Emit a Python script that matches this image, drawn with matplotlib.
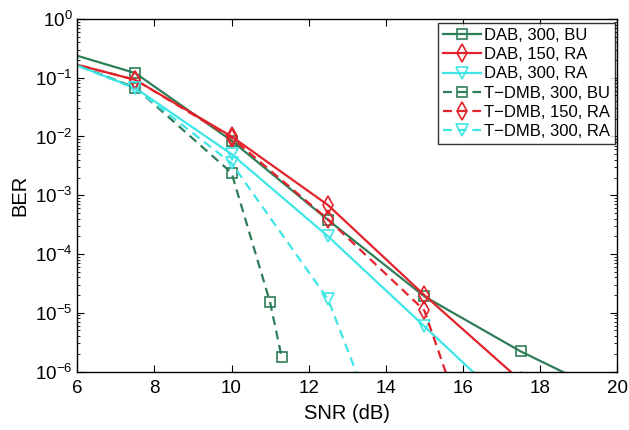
import numpy as np
import matplotlib
matplotlib.use("Agg")
import matplotlib.pyplot as plt

plt.rcParams['font.family'] = ['Liberation Sans', 'DejaVu Sans']
plt.rcParams['mathtext.default'] = 'regular'

# data (SNR in dB, BER)
snr_dab = [5, 7.5, 10, 12.5, 15, 17.5, 20]
ber_dab_300_bu = [0.37, 0.12, 8.5e-3, 3.8e-4, 1.9e-5, 2.2e-6, 3.5e-7]
ber_dab_150_ra = [0.245, 0.092, 1.0e-2, 6.8e-4, 2.0e-5, 7.0e-7, 2e-8]
ber_dab_300_ra = [0.29, 0.067, 5.0e-3, 2.0e-4, 5.9e-6, 1.7e-7, 5e-9]

snr_tdmb_bu = [5, 7.5, 10, 11, 11.3]
ber_tdmb_300_bu = [0.29, 0.068, 2.4e-3, 1.5e-5, 1.75e-6]
snr_tdmb_ra = [5, 7.5, 10, 12.5, 15, 17.5]
ber_tdmb_150_ra = [0.245, 0.092, 9.5e-3, 3.9e-4, 1.1e-5, 2e-10]
ber_tdmb_300_ra = [0.29, 0.066, 3.5e-3, 1.7e-5, 1e-9, 1e-12]

labels = ['DAB, 300, BU', 'DAB, 150, RA', 'DAB, 300, RA',
          'T\u2212DMB, 300, BU', 'T\u2212DMB, 150, RA', 'T\u2212DMB, 300, RA']

green = '#2f7d58'
red = '#e4222b'
cyan = '#3fe6e6'

fig = plt.figure(figsize=(6.29, 4.30), dpi=100)
ax = fig.add_axes([0.123, 0.136, 0.858, 0.820])

lw = 1.6
dash = (0, (4, 2.6))
ax.plot(snr_dab, ber_dab_300_bu, color=green, lw=lw, marker='s', ms=7, mfc='none', mew=1.2, label=labels[0])
ax.plot(snr_dab, ber_dab_150_ra, color=red, lw=lw, marker='d', ms=9, mfc='none', mew=1.2, label=labels[1])
ax.plot(snr_dab, ber_dab_300_ra, color=cyan, lw=lw, marker='v', ms=8, mfc='none', mew=1.2, label=labels[2])
ax.plot(snr_tdmb_bu, ber_tdmb_300_bu, color=green, lw=lw, ls=dash, marker='s', ms=7, mfc='none', mew=1.2, label=labels[3])
ax.plot(snr_tdmb_ra, ber_tdmb_150_ra, color=red, lw=lw, ls=dash, marker='d', ms=9, mfc='none', mew=1.2, label=labels[4])
ax.plot(snr_tdmb_ra, ber_tdmb_300_ra, color=cyan, lw=lw, ls=dash, marker='v', ms=8, mfc='none', mew=1.2, label=labels[5])

ax.set_yscale('log')
ax.set_xlim(6, 20)
ax.set_ylim(1e-6, 1)
ax.set_xticks(np.arange(6, 21, 2))
ax.set_yticks([1e-6, 1e-5, 1e-4, 1e-3, 1e-2, 1e-1, 1])
ax.tick_params(which='both', direction='in', top=True, right=True, labelsize=13.5)
ax.tick_params(which='major', length=5)
ax.tick_params(which='minor', length=2.5)
ax.tick_params(axis='x', pad=6)
for s in ax.spines.values():
    s.set_linewidth(1.0)

ax.set_xlabel('SNR (dB)', fontsize=14.5, labelpad=5)
ax.set_ylabel('BER', fontsize=14.5, labelpad=4)

leg = ax.legend(loc='upper right', bbox_to_anchor=(0.997, 0.988), borderaxespad=0,
                fontsize=12, frameon=True, fancybox=False, edgecolor='black',
                handlelength=2.3, handletextpad=0.2, labelspacing=0.25, borderpad=0.3)
leg.get_frame().set_linewidth(1.0)

fig.savefig('out.png', dpi=100)
